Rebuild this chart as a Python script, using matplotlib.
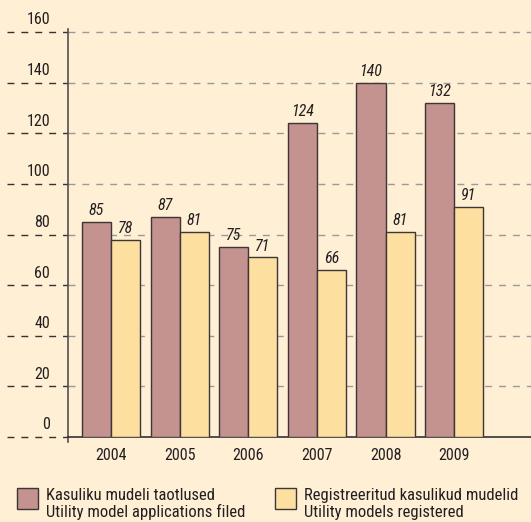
import matplotlib

matplotlib.use('Agg')

import matplotlib.pyplot as plt
import matplotlib.transforms as mtransforms
import numpy as np
from matplotlib import font_manager
from matplotlib.patches import Rectangle

years = ['2004', '2005', '2006', '2007', '2008', '2009']
applications_filed = [85, 87, 75, 124, 140, 132]
models_registered = [78, 81, 71, 66, 81, 91]
y_ticks = [0, 20, 40, 60, 80, 100, 120, 140, 160]
legend_labels = [
    'Kasuliku mudeli taotlused\nUtility model applications filed',
    'Registreeritud kasulikud mudelid\nUtility models registered',
]

BG = '#FEEFD5'
MAUVE = '#C4928F'
ORANGE = '#FDDFA0'
EDGE = '#3C3636'
TEXT = '#231F20'

installed = {f.name for f in font_manager.fontManager.ttflist}
preferred = ['Roboto Condensed', 'Archivo Narrow', 'PT Sans Narrow', 'Barlow Semi Condensed']
family = next((f for f in preferred if f in installed), 'DejaVu Sans')
plt.rcParams['font.family'] = [family, 'DejaVu Sans']

W, H = 531, 522
fig = plt.figure(figsize=(W / 100, H / 100), dpi=100, facecolor=BG)
ax_left, ax_right, ax_top, ax_bottom = 68, 531, 29, 437
ax = fig.add_axes([ax_left / W, 1 - ax_bottom / H, (ax_right - ax_left) / W, (ax_bottom - ax_top) / H])
ax.set_facecolor(BG)

x = np.arange(len(years))
width = 0.423
bars1 = ax.bar(x - width / 2, applications_filed, width, color=MAUVE, edgecolor=EDGE, lw=1, zorder=3)
bars2 = ax.bar(x + width / 2, models_registered, width, color=ORANGE, edgecolor=EDGE, lw=1, zorder=3)

for bars, vals in ((bars1, applications_filed), (bars2, models_registered)):
    for b, v in zip(bars, vals):
        ax.text(b.get_x() + b.get_width() / 2, v + 1.5, str(v), ha='center', va='bottom',
                fontsize=11.5, style='italic', color=TEXT, zorder=4)

ax.set_xlim(-0.627, 6.12)
ax.set_ylim(0, 161.2)

# gridlines: gray inside the plot, darker stub to the left of the axis
trans = mtransforms.blended_transform_factory(ax.transAxes, ax.transData)
stub = (ax_left - 7) / (ax_right - ax_left)
label_x = (50 - ax_left) / (ax_right - ax_left)
for t in y_ticks:
    if t > 0:
        ax.axhline(t, color='#9A9A9A', lw=1, ls=(0, (5, 5)), zorder=1)
    ax.plot([-stub, 0], [t, t], transform=trans, color='#333333', lw=1, ls=(0, (5, 5)), clip_on=False)
    ax.text(label_x, t + 1.8, str(t), transform=trans, ha='right', va='bottom', fontsize=11.5, color=TEXT)

for s in ('top', 'right'):
    ax.spines[s].set_visible(False)
ax.spines['left'].set_color('#555050')
ax.spines['bottom'].set_color('#333333')
ax.spines['left'].set_linewidth(1.2)
ax.spines['bottom'].set_linewidth(1.2)
ax.plot([0, 0], [0, -2.0], transform=trans, color='#555050', lw=1.2, clip_on=False)

ax.set_xticks(x)
ax.set_xticklabels(years, fontsize=11.5, color=TEXT)
ax.tick_params(axis='x', length=0, pad=8)
ax.set_yticks([])

# legend drawn by hand in figure pixels
for (px, col), label in zip(((17, MAUVE), (275, ORANGE)), legend_labels):
    fig.patches.append(Rectangle((px / W, 1 - 509 / H), 21 / W, 21 / H, transform=fig.transFigure,
                                 facecolor=col, edgecolor=EDGE, lw=1))
    fig.text((px + 29) / W, 1 - 504 / H, label, ha='left', va='center', fontsize=12,
             color=TEXT, linespacing=1.12)

fig.savefig('out.png', dpi=100, facecolor=BG)
